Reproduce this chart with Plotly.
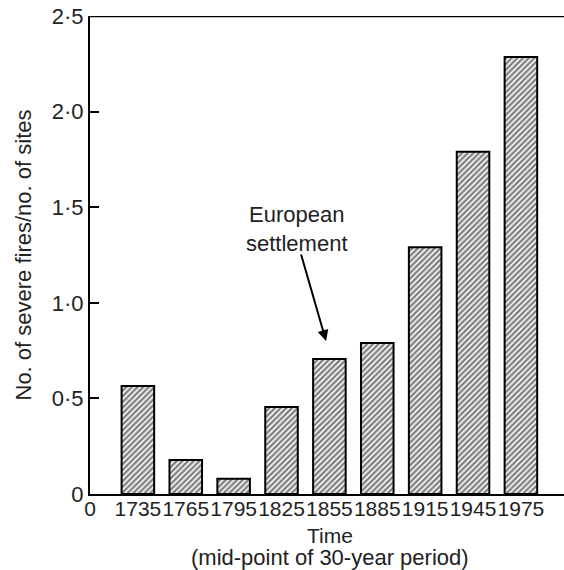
import plotly.graph_objects as go

categories = ["1735", "1765", "1795", "1825", "1855", "1885", "1915", "1945", "1975"]
values = [0.565, 0.178, 0.08, 0.455, 0.706, 0.79, 1.29, 1.79, 2.285]
ytick_vals = [0, 0.5, 1.0, 1.5, 2.0, 2.5]
ytick_text = ["0", "0·5", "1·0", "1·5", "2·0", "2·5"]

positions = list(range(1, len(categories) + 1))
FONT = "Liberation Sans, Arial, sans-serif"
FS = 22

fig = go.Figure()
fig.add_trace(go.Bar(
    x=positions, y=values, width=0.68,
    marker=dict(color="white", line=dict(color="black", width=2),
                pattern=dict(shape="/", fgcolor="black", bgcolor="white", size=4, solidity=0.6)),
))

fig.update_layout(
    width=564, height=570,
    margin=dict(l=90, r=0, t=16, b=76),
    plot_bgcolor="white", paper_bgcolor="white",
    showlegend=False,
    font=dict(family=FONT, size=FS, color="#222"),
    xaxis=dict(range=[0, 9.9], tickmode="array", tickvals=[0] + positions,
               ticktext=["0"] + categories, showline=True, linecolor="black", linewidth=2,
               ticks="", showgrid=False, zeroline=False, tickfont=dict(size=21),
               tickangle=0, ticklabelstandoff=-5),
    yaxis=dict(range=[0, 2.5], tickmode="array", tickvals=ytick_vals, ticktext=ytick_text,
               showline=True, linecolor="black", linewidth=2, ticks="inside", ticklen=9,
               tickwidth=2, tickcolor="black", showgrid=False, zeroline=False,
               tickfont=dict(size=FS),
               title=dict(text="No. of severe fires/no. of sites", standoff=14, font=dict(size=FS))),
)

fig.add_shape(type="line", xref="paper", yref="y", x0=0, x1=1, y0=2.5, y1=2.5,
              line=dict(color="black", width=2.5))

fig.add_annotation(xref="paper", yref="paper", x=0.506, y=-0.086, yanchor="middle",
                   text="Time", showarrow=False, font=dict(size=21))
fig.add_annotation(xref="paper", yref="paper", x=0.506, y=-0.132, yanchor="middle",
                   text="(mid-point of 30-year period)", showarrow=False, font=dict(size=22))

fig.add_annotation(x=4.32, y=1.385, xref="x", yref="y", text="European<br>settlement",
                   showarrow=False, font=dict(size=FS))
fig.add_annotation(x=4.93, y=0.80, xref="x", yref="y", ax=4.40, ay=1.26, axref="x", ayref="y",
                   text="", showarrow=True, arrowhead=2, arrowsize=1.1, arrowwidth=2, arrowcolor="black")

fig.write_html("out.html")
